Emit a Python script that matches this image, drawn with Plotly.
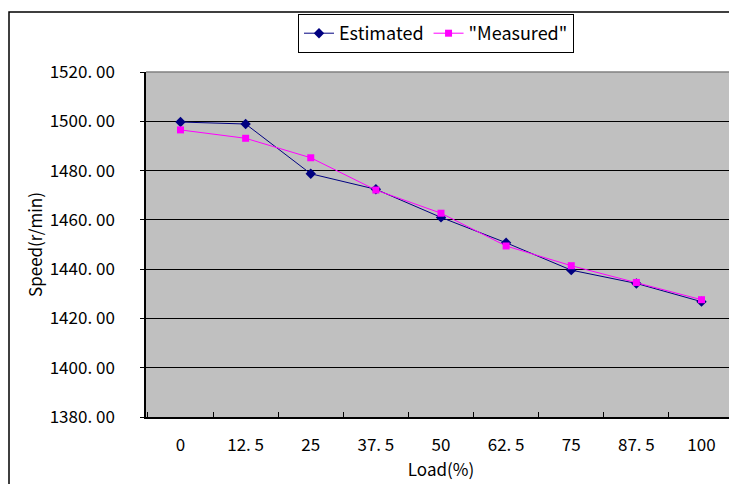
import plotly.graph_objects as go

loads = ["0", "12. 5", "25", "37. 5", "50", "62. 5", "75", "87. 5", "100"]
estimated = [1499.7, 1498.9, 1478.7, 1472.4, 1461.0, 1450.7, 1439.6, 1434.2, 1426.8]
measured = [1496.5, 1493.1, 1485.2, 1472.1, 1462.7, 1449.4, 1441.4, 1434.6, 1427.6]
y_ticks = [1380, 1400, 1420, 1440, 1460, 1480, 1500, 1520]
y_ticktext = ["1380. 00", "1400. 00", "1420. 00", "1440. 00", "1460. 00", "1480. 00", "1500. 00", "1520. 00"]

FONT = "Noto Sans CJK JP, Liberation Sans, sans-serif"

fig = go.Figure()
fig.add_trace(go.Scatter(
    x=loads, y=estimated, name="Estimated", mode="lines+markers",
    line=dict(color="#000080", width=1),
    marker=dict(symbol="diamond", size=8, color="#000080"),
))
fig.add_trace(go.Scatter(
    x=loads, y=measured, name="\"Measured\"", mode="lines+markers",
    line=dict(color="#FF00FF", width=1),
    marker=dict(symbol="square", size=7, color="#FF00FF"),
))

# page body has an 8px margin, so figure coordinates = screen coordinates - 8
OFF = 8
W, H = 737 - OFF, 492 - 2 * OFF
L, T = 146 - OFF, 72 - OFF
pw, ph = 590, 345
R, B = W - L - pw, H - T - ph

def px_x(p):
    return (p - OFF - L) / pw

def px_y(p):
    return (T + ph - (p - OFF)) / ph

fig.add_shape(type="rect", xref="paper", yref="paper",
              x0=px_x(9), x1=px_x(760), y0=px_y(520), y1=px_y(12),
              line=dict(color="black", width=1.5), fillcolor="rgba(0,0,0,0)", layer="below")
fig.add_shape(type="line", xref="paper", yref="paper", x0=0, x1=1, y0=1, y1=1,
              line=dict(color="#808080", width=1.5))
fig.add_shape(type="line", xref="paper", yref="paper", x0=1, x1=1, y0=0, y1=1,
              line=dict(color="#808080", width=1))

fig.update_layout(
    width=W, height=H,
    margin=dict(l=L, r=R, t=T, b=B, pad=0, autoexpand=False),
    paper_bgcolor="white",
    plot_bgcolor="#C0C0C0",
    font=dict(family=FONT, size=16, color="black"),
    showlegend=True,
    legend=dict(
        orientation="h", x=px_x(298), y=px_y(14), xanchor="left", yanchor="top",
        bgcolor="white", bordercolor="black", borderwidth=1,
        font=dict(family=FONT, size=18), tracegroupgap=0,
    ),
    xaxis=dict(
        type="category", tickson="boundaries", ticks="inside", ticklen=5,
        tickcolor="black", showline=True, linecolor="black", linewidth=1.5,
        showgrid=False, zeroline=False, automargin=False,
        ticklabelstandoff=12,
        title=dict(text="Load(%)", font=dict(size=17), standoff=5),
        tickfont=dict(size=17),
    ),
    yaxis=dict(
        range=[1380, 1520], tickvals=y_ticks, ticktext=y_ticktext,
        ticks="outside", ticklen=4, tickcolor="black",
        showline=True, linecolor="black", linewidth=1.5,
        showgrid=True, gridcolor="black", gridwidth=1, zeroline=False,
        automargin=False, ticklabelstandoff=22,
        title=dict(text="Speed(r/min)", font=dict(size=17), standoff=3),
        tickfont=dict(size=17),
    ),
)

fig.write_html("out.html")
